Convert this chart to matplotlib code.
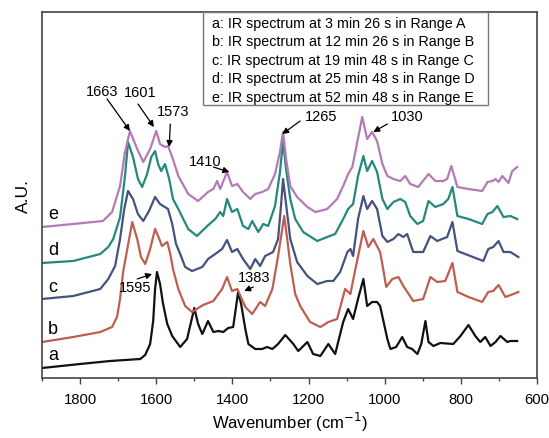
### Recreation of the stacked IR spectra figure (curves a-e) ###
import matplotlib
matplotlib.use('Agg')
import matplotlib.pyplot as plt
from matplotlib.patches import Rectangle
from matplotlib.ticker import MultipleLocator

plt.rcParams['font.family'] = ['Liberation Sans', 'DejaVu Sans']

# Spectrum a (black), wavenumber in cm-1 and absorbance in arbitrary units
WN_A = [1900, 1800, 1721, 1642, 1629, 1616, 1608, 1603, 1598, 1590, 1582, 1571, 1558, 1537, 1519,
        1500, 1490, 1479, 1464, 1450, 1437, 1424, 1411, 1398, 1393, 1385, 1377, 1366, 1358, 1340,
        1322, 1309, 1295, 1280, 1261, 1240, 1227, 1203, 1188, 1169, 1148, 1130, 1109, 1096, 1083,
        1070, 1056, 1046, 1033, 1020, 1012, 993, 985, 970, 954, 941, 928, 914, 904, 893,
        885, 872, 854, 820, 801, 780, 762, 749, 736, 722, 709, 696, 678, 670, 652]
AU_A = [10, 14, 17, 19, 23, 34, 57, 89, 106, 94, 74, 54, 42, 31, 39,
        70, 54, 44, 57, 46, 47, 46, 50, 51, 64, 86, 74, 49, 34, 29,
        29, 31, 29, 34, 43, 34, 27, 36, 24, 22, 34, 24, 56, 69, 59,
        79, 99, 72, 76, 76, 72, 39, 29, 31, 41, 31, 29, 24, 34, 57,
        36, 32, 35, 34, 42, 53, 42, 36, 41, 32, 36, 42, 36, 37, 37]

# Spectrum b (red)
WN_B = [1900, 1818, 1747, 1716, 1703, 1695, 1687, 1676, 1663, 1650, 1640, 1629, 1616, 1603, 1592,
        1585, 1571, 1563, 1556, 1542, 1524, 1506, 1477, 1450, 1427, 1414, 1401, 1387, 1366, 1348,
        1327, 1314, 1295, 1280, 1269, 1264, 1256, 1248, 1235, 1222, 1196, 1169, 1148, 1125, 1104,
        1090, 1077, 1056, 1043, 1030, 1012, 1004, 996, 980, 964, 951, 925, 899, 880, 862,
        841, 822, 809, 780, 744, 728, 715, 701, 683, 662, 649]
AU_B = [36, 41, 46, 51, 61, 79, 106, 129, 156, 139, 121, 114, 129, 149, 139,
        132, 136, 124, 109, 89, 72, 66, 73, 77, 89, 101, 87, 89, 71, 64,
        76, 72, 89, 122, 149, 162, 139, 114, 84, 72, 56, 51, 56, 59, 89,
        84, 109, 147, 131, 139, 126, 109, 91, 99, 101, 92, 77, 79, 101, 96,
        97, 115, 86, 81, 76, 86, 87, 93, 81, 84, 86]

# Spectrum c (dark blue)
WN_C = [1900, 1818, 1747, 1726, 1708, 1695, 1684, 1674, 1661, 1648, 1634, 1619, 1603, 1590, 1582,
        1569, 1558, 1548, 1537, 1524, 1506, 1479, 1464, 1445, 1427, 1414, 1401, 1387, 1372, 1353,
        1340, 1327, 1314, 1293, 1280, 1272, 1267, 1259, 1248, 1230, 1203, 1177, 1151, 1135, 1117,
        1098, 1090, 1083, 1070, 1056, 1046, 1033, 1020, 1006, 993, 977, 964, 951, 941, 925,
        899, 880, 862, 836, 822, 809, 775, 741, 728, 715, 701, 688, 670, 649]
AU_C = [79, 82, 89, 99, 112, 139, 169, 187, 179, 164, 157, 167, 181, 174, 172,
        169, 154, 134, 124, 111, 107, 111, 119, 124, 129, 138, 126, 129, 119, 109,
        119, 112, 122, 126, 139, 174, 199, 174, 139, 116, 102, 94, 97, 97, 106,
        126, 129, 122, 159, 182, 169, 177, 169, 142, 136, 139, 144, 141, 144, 126,
        126, 142, 137, 141, 156, 127, 122, 117, 129, 131, 137, 126, 126, 121]

# Spectrum d (teal)
WN_D = [1900, 1818, 1747, 1726, 1713, 1703, 1695, 1682, 1674, 1661, 1648, 1637, 1624, 1613, 1603,
        1595, 1587, 1577, 1566, 1556, 1542, 1516, 1493, 1466, 1445, 1432, 1424, 1414, 1401, 1387,
        1372, 1358, 1348, 1332, 1319, 1306, 1288, 1275, 1267, 1259, 1248, 1235, 1214, 1177, 1151,
        1130, 1109, 1096, 1083, 1070, 1056, 1046, 1033, 1020, 1006, 993, 977, 959, 946, 933,
        914, 899, 885, 867, 846, 833, 822, 809, 780, 744, 730, 717, 704, 688, 670, 652]
AU_D = [115, 117, 124, 131, 139, 151, 161, 202, 236, 221, 199, 191, 204, 221, 227,
        214, 207, 214, 199, 179, 169, 149, 142, 152, 159, 166, 162, 179, 166, 169,
        152, 149, 157, 146, 154, 152, 172, 206, 237, 209, 179, 159, 146, 137, 141,
        144, 159, 169, 174, 202, 222, 207, 217, 206, 179, 169, 176, 179, 176, 162,
        154, 157, 177, 171, 174, 179, 191, 162, 159, 154, 164, 166, 172, 161, 162, 159]

# Spectrum e (violet)
WN_E = [1900, 1818, 1740, 1716, 1695, 1682, 1669, 1650, 1634, 1616, 1600, 1590, 1577, 1569, 1558,
        1542, 1516, 1490, 1464, 1450, 1440, 1432, 1414, 1401, 1387, 1372, 1353, 1340, 1322, 1306,
        1288, 1275, 1267, 1259, 1248, 1230, 1203, 1182, 1151, 1125, 1109, 1096, 1085, 1072, 1059,
        1046, 1033, 1020, 1006, 993, 977, 959, 946, 933, 912, 885, 867, 846, 836, 825,
        809, 780, 744, 730, 717, 709, 701, 691, 675, 665, 652]
AU_E = [151, 154, 157, 166, 192, 226, 247, 229, 216, 229, 247, 234, 231, 232, 221,
        202, 184, 177, 186, 189, 197, 189, 206, 192, 194, 186, 179, 184, 186, 189,
        204, 226, 246, 219, 192, 181, 171, 166, 169, 179, 192, 204, 211, 236, 261,
        239, 246, 237, 214, 202, 199, 197, 202, 194, 191, 204, 197, 197, 199, 212,
        191, 189, 187, 196, 197, 199, 196, 202, 195, 207, 211]

CURVE_NAMES = ['a', 'b', 'c', 'd', 'e']
LEGEND_LINES = [
    'a: IR spectrum at 3 min 26 s in Range A',
    'b: IR spectrum at 12 min 26 s in Range B',
    'c: IR spectrum at 19 min 48 s in Range C',
    'd: IR spectrum at 25 min 48 s in Range D',
    'e: IR spectrum at 52 min 48 s in Range E',
]
PEAK_LABELS = ['1663', '1601', '1573', '1410', '1265', '1030', '1595', '1383']
X_TICKS = [1800, 1600, 1400, 1200, 1000, 800, 600]


def draw_spectra(ax):
    """
    Plots the five stacked spectra and the little letter next to each one
    """
    curves = [(WN_A, AU_A, '#111111'),
              (WN_B, AU_B, '#BF5E50'),
              (WN_C, AU_C, '#46527E'),
              (WN_D, AU_D, '#23897A'),
              (WN_E, AU_E, '#B27BB5')]
    for name, (wn, au, colour) in zip(CURVE_NAMES, curves):
        ax.plot(wn, au, color=colour, lw=1.6, solid_joinstyle='round')
        # letter sits a bit above the left end of its curve
        ax.text(1871, au[0] + 13, name, fontsize=13, ha='center', va='center')


def draw_peak_marks(ax):
    """
    Arrows with the wavenumber of the marked peaks
    """
    # (text position, arrow tail, arrow tip) in data coordinates
    spots = [((1742, 287), (1729, 279), (1669, 247)),
             ((1642, 286), (1648, 274), (1606, 251)),
             ((1556, 267), (1563, 254), (1566, 231)),
             ((1471, 217), (1450, 211), (1408, 206)),
             ((1167, 262), (1222, 257), (1269, 244)),
             ((941, 262), (993, 254), (1030, 246)),
             ((1655, 91), (1650, 99), (1611, 104)),
             ((1343, 101), (1345, 91), (1369, 87))]
    for label, (txt, tail, tip) in zip(PEAK_LABELS, spots):
        ax.text(txt[0], txt[1], label, ha='center', va='center', fontsize=10.5)
        ax.annotate('', xy=tip, xytext=tail,
                    arrowprops=dict(arrowstyle='-|>', color='black', lw=0.9,
                                    mutation_scale=9, shrinkA=0, shrinkB=0))


def draw_legend_box(ax):
    """
    Boxed list of the measuring times, hanging from the top of the frame
    """
    ax.add_patch(Rectangle((0.325, 0.746), 0.576, 0.254, transform=ax.transAxes,
                           facecolor='white', edgecolor='#777777', lw=1.0, zorder=3))
    for i, line in enumerate(LEGEND_LINES):
        ax.text(0.343, 0.970 - i * 0.0505, line, transform=ax.transAxes,
                fontsize=10.3, ha='left', va='center', zorder=4)


def main():
    fig = plt.figure(figsize=(5.49, 4.39), dpi=100)
    ax = fig.add_axes([42 / 549, 60 / 439, 495 / 549, 366 / 439])

    draw_spectra(ax)
    draw_peak_marks(ax)
    draw_legend_box(ax)

    ax.set_xlim(1900, 600)
    ax.set_ylim(0, 366)
    ax.set_xticks(X_TICKS)
    ax.set_xticklabels([str(t) for t in X_TICKS])
    ax.xaxis.set_minor_locator(MultipleLocator(100))
    ax.set_yticks([])
    ax.tick_params(axis='x', which='major', direction='out', length=4, width=1,
                   color='#444444', labelsize=10.7, pad=6)
    ax.tick_params(axis='x', which='minor', direction='out', length=2.5, width=1,
                   color='#444444')
    for spine in ax.spines.values():
        spine.set_color('#444444')
        spine.set_linewidth(1.2)

    ax.set_xlabel('Wavenumber (cm$^{-1}$)', fontsize=12, labelpad=3)
    ax.set_ylabel('A.U.', fontsize=12.5, labelpad=8)

    fig.savefig('out.png', dpi=100)


if __name__ == "__main__":
    main()
